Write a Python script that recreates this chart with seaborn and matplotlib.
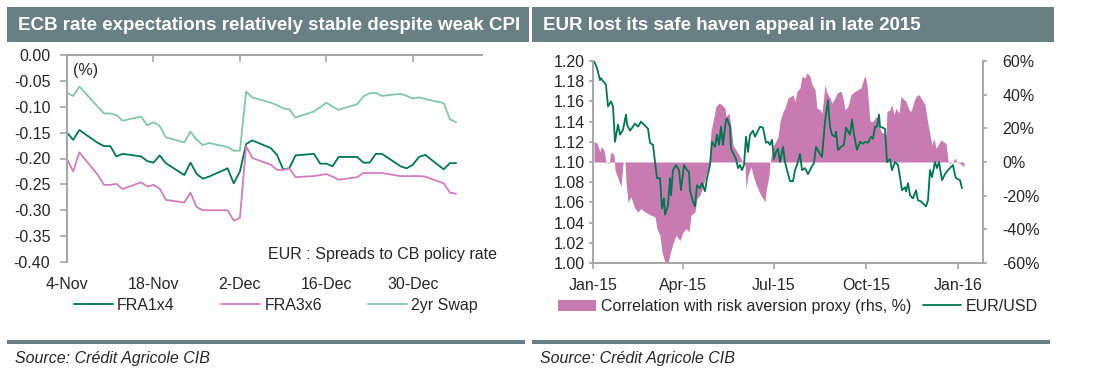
import numpy as np
import pandas as pd
import matplotlib
matplotlib.use("Agg")
import matplotlib.pyplot as plt
import seaborn as sns
from matplotlib.patches import Rectangle, Patch
from matplotlib.lines import Line2D
from matplotlib.ticker import FixedLocator, FuncFormatter
import matplotlib.dates as mdates

# ---------------- data: left chart ----------------
left_title = "ECB rate expectations relatively stable despite weak CPI"
right_title = "EUR lost its safe haven appeal in late 2015"

dates_left = ["2015-11-04", "2015-11-05", "2015-11-06", "2015-11-09", "2015-11-10", "2015-11-11",
              "2015-11-12", "2015-11-13", "2015-11-16", "2015-11-17", "2015-11-18", "2015-11-19",
              "2015-11-20", "2015-11-23", "2015-11-24", "2015-11-25", "2015-11-26", "2015-11-27",
              "2015-11-30", "2015-12-01", "2015-12-02", "2015-12-03", "2015-12-04", "2015-12-07",
              "2015-12-08", "2015-12-09", "2015-12-10", "2015-12-11", "2015-12-14", "2015-12-15",
              "2015-12-16", "2015-12-17", "2015-12-18", "2015-12-21", "2015-12-22", "2015-12-23",
              "2015-12-24", "2015-12-25", "2015-12-28", "2015-12-29", "2015-12-30", "2015-12-31",
              "2016-01-01", "2016-01-04", "2016-01-05", "2016-01-06"]

fra1x4 = [-0.150, -0.164, -0.145, -0.170, -0.176, -0.176, -0.196, -0.191, -0.196, -0.205, -0.208,
          -0.194, -0.209, -0.232, -0.208, -0.230, -0.239, -0.235, -0.219, -0.248, -0.225, -0.172,
          -0.165, -0.180, -0.193, -0.221, -0.219, -0.194, -0.191, -0.210, -0.210, -0.215, -0.197,
          -0.197, -0.208, -0.208, -0.191, -0.191, -0.215, -0.219, -0.212, -0.197, -0.193, -0.221,
          -0.209, -0.209]

fra3x6 = [-0.201, -0.225, -0.188, -0.232, -0.251, -0.251, -0.249, -0.259, -0.246, -0.254, -0.251,
          -0.258, -0.280, -0.285, -0.266, -0.294, -0.300, -0.300, -0.300, -0.320, -0.315, -0.176,
          -0.199, -0.212, -0.222, -0.222, -0.219, -0.236, -0.234, -0.232, -0.230, -0.235, -0.241,
          -0.236, -0.228, -0.228, -0.228, -0.228, -0.234, -0.234, -0.234, -0.234, -0.235, -0.248,
          -0.266, -0.268]

swap2y = [-0.073, -0.079, -0.061, -0.100, -0.113, -0.113, -0.116, -0.127, -0.119, -0.136, -0.130,
          -0.137, -0.159, -0.169, -0.148, -0.164, -0.174, -0.170, -0.178, -0.185, -0.185, -0.071,
          -0.082, -0.092, -0.097, -0.103, -0.105, -0.121, -0.109, -0.101, -0.092, -0.100, -0.106,
          -0.095, -0.080, -0.074, -0.073, -0.079, -0.075, -0.079, -0.084, -0.082, -0.085, -0.093,
          -0.124, -0.130]

left_series = ["FRA1x4", "FRA3x6", "2yr Swap"]
left_xticks = ["2015-11-04", "2015-11-18", "2015-12-02", "2015-12-16", "2015-12-30"]
left_yticks = [-0.40, -0.35, -0.30, -0.25, -0.20, -0.15, -0.10, -0.05, 0.00]

# ---------------- data: right chart ----------------
base_date = "2015-01-01"
eur_days = [1, 4, 7, 8, 10, 12, 13, 15, 18, 20, 22, 25, 27, 30, 33, 34, 37, 42, 45, 48,
            52, 55, 57, 60, 62, 64, 67, 69, 71, 72, 75, 77, 78, 80, 83, 86, 88, 91, 94, 96,
            97, 100, 102, 104, 107, 109, 112, 114, 117, 119, 122, 124, 126, 128, 130, 133, 134, 137, 138, 140,
            143, 145, 147, 149, 151, 153, 155, 157, 160, 162, 164, 167, 170, 173, 175, 177, 179, 181, 183, 185,
            187, 190, 192, 194, 197, 200, 202, 204, 207, 209, 212, 215, 218, 221, 223, 227, 229, 232, 235, 237,
            239, 242, 243, 245, 248, 251, 253, 257, 259, 261, 264, 267, 270, 272, 275, 278, 280, 282, 284, 286,
            287, 292, 294, 297, 299, 302, 305, 307, 309, 312, 313, 315, 317, 320, 323, 325, 328, 332, 333, 335,
            337, 339, 342, 344, 346, 349, 352, 355, 357, 360, 362, 363, 367, 369]
eur_usd = [1.200, 1.193, 1.181, 1.183, 1.180, 1.178, 1.176, 1.155, 1.160, 1.155,
           1.120, 1.137, 1.127, 1.132, 1.147, 1.137, 1.131, 1.138, 1.135, 1.140,
           1.136, 1.133, 1.119, 1.117, 1.100, 1.084, 1.084, 1.054, 1.064, 1.048,
           1.057, 1.084, 1.067, 1.092, 1.097, 1.092, 1.072, 1.097, 1.092, 1.090,
           1.072, 1.061, 1.056, 1.077, 1.074, 1.079, 1.071, 1.084, 1.097, 1.120,
           1.115, 1.127, 1.117, 1.135, 1.117, 1.142, 1.143, 1.135, 1.113, 1.109,
           1.103, 1.094, 1.097, 1.092, 1.097, 1.125, 1.110, 1.127, 1.131, 1.125,
           1.129, 1.135, 1.134, 1.119, 1.120, 1.117, 1.122, 1.103, 1.110, 1.113,
           1.100, 1.115, 1.100, 1.092, 1.081, 1.081, 1.092, 1.097, 1.108, 1.092,
           1.094, 1.088, 1.094, 1.099, 1.115, 1.108, 1.105, 1.140, 1.161, 1.135,
           1.127, 1.125, 1.130, 1.112, 1.115, 1.117, 1.134, 1.127, 1.142, 1.127,
           1.112, 1.120, 1.118, 1.120, 1.119, 1.125, 1.123, 1.135, 1.135, 1.147,
           1.135, 1.133, 1.100, 1.103, 1.092, 1.100, 1.097, 1.085, 1.072, 1.075,
           1.071, 1.079, 1.067, 1.064, 1.072, 1.062, 1.061, 1.057, 1.056, 1.062,
           1.092, 1.085, 1.100, 1.094, 1.100, 1.082, 1.088, 1.092, 1.094, 1.097,
           1.087, 1.084, 1.082, 1.074]

corr_days = [1, 4, 7, 8, 11, 13, 16, 18, 21, 22, 25, 28, 30, 32, 33, 35, 38, 42, 45, 48,
             52, 55, 58, 62, 64, 67, 69, 72, 75, 78, 80, 83, 87, 90, 93, 96, 98, 102, 104, 107,
             110, 113, 116, 118, 121, 123, 126, 129, 132, 133, 136, 138, 140, 143, 147, 149, 152, 153, 155, 158,
             161, 164, 167, 169, 172, 173, 176, 177, 180, 183, 185, 187, 188, 190, 192, 195, 198, 200, 202, 204,
             207, 209, 212, 214, 217, 219, 222, 224, 227, 229, 232, 234, 237, 239, 242, 244, 248, 250, 252, 255,
             258, 262, 265, 268, 271, 272, 274, 277, 280, 282, 284, 285, 288, 293, 294, 297, 299, 301, 303, 306,
             308, 311, 313, 316, 318, 321, 323, 326, 328, 332, 334, 337, 339, 341, 343, 346, 348, 351, 353, 355,
             357, 360, 362, 364, 367, 369, 371]
corr_risk = [12.1, 11.1, 6.1, 9.1, 7.2, 0, -0.8, 6.1, 4.2, -4.8,
             -9.7, -14.7, -0.8, 0.6, -11.8, -23.7, -20.7, -27.7, -29.7, -27.7,
             -29.7, -30.6, -31.6, -32.6, -39.6, -43.6, -53.5, -59.6, -60, -52.5,
             -48.5, -43.6, -46.6, -41.6, -39.6, -41.6, -31.6, -29.7, -21.7, -19.7,
             -14.7, -7.8, -1.8, 18.1, 27.0, 33.0, 35.0, 34.0, 32.0, 27.0,
             29.1, 21.1, 10.1, 7.2, 3.2, 0.6, -1.8, -15.7, -7.8, -2.8,
             -9.7, -14.7, -18.7, -20.7, -23.7, -17.7, -7.8, 0, 9.1, 12.5,
             15.1, 24.1, 26.1, 30.0, 32.0, 38.0, 39.0, 40.0, 36.0, 42.0,
             44.0, 50.9, 50.0, 53.0, 50.9, 46.0, 43.0, 32.0, 31.0, 29.1,
             46.0, 41.0, 38.0, 35.0, 38.0, 41.0, 42.0, 38.0, 31.0, 33.0,
             40.0, 42.0, 43.0, 44.0, 50.0, 50.9, 46.0, 24.1, 24.0, 26.1,
             27.0, 24.1, 18.1, 16.1, 30.0, 31.0, 34.0, 28.1, 32.0, 29.1,
             39.0, 37.0, 36.0, 31.0, 30.0, 36.0, 39.0, 40.0, 38.0, 34.0,
             26.1, 16.1, 10.1, 14.1, 8.2, 11.1, 13.1, 11.8, 11.1, 0.6,
             -0.8, 0.2, 2.2, 0, -0.8, -1.8, -2.8]

right_xticks = ["2015-01-01", "2015-04-01", "2015-07-01", "2015-10-01", "2016-01-01"]
right_yticks = [1.00, 1.02, 1.04, 1.06, 1.08, 1.10, 1.12, 1.14, 1.16, 1.18, 1.20]
right_y2ticks = [-60, -40, -20, 0, 20, 40, 60]
right_labels = ["Correlation with risk aversion proxy (rhs, %)", "EUR/USD"]

# ---------------- style ----------------
banner_c = "#687F84"
spine_c = "#A6A6A6"
c_fra1 = "#00784F"
c_fra3 = "#D27DBE"
c_swap = "#84C7A8"
c_fill = "#C77BB0"
c_eur = "#00784F"
FS = 11.5

sns.set_style("white")
plt.rcParams["font.family"] = ["Liberation Sans", "DejaVu Sans"]
plt.rcParams["axes.unicode_minus"] = False

W, H = 1099, 379
fig = plt.figure(figsize=(W / 100, H / 100), dpi=100)


def fx(px):
    return px / W


def fy(py):
    return 1 - py / H


# banners, separators, sources
for x0, x1, title in [(7, 529, left_title), (532, 1054, right_title)]:
    fig.patches.append(Rectangle((fx(x0), fy(42)), (x1 - x0) / W, 35 / H,
                                 transform=fig.transFigure, facecolor=banner_c,
                                 edgecolor="none", zorder=0))
    fig.text(fx(x0 + 11), fy(25), title, color="white", fontsize=13.5,
             fontweight="bold", va="center", ha="left")
for x0, x1 in [(7, 525), (532, 1050)]:
    fig.patches.append(Rectangle((fx(x0), fy(343.5)), (x1 - x0) / W, 3.5 / H,
                                 transform=fig.transFigure, facecolor=banner_c,
                                 edgecolor="none", zorder=0))
fig.text(fx(15), fy(359), "Source: Crédit Agricole CIB", fontsize=FS, style="italic",
         va="center", ha="left")
fig.text(fx(540), fy(359), "Source: Crédit Agricole CIB", fontsize=FS, style="italic",
         va="center", ha="left")

# ---------------- left chart ----------------
dl = pd.to_datetime(dates_left)
ax1 = fig.add_axes([fx(67), fy(262), 415 / W, 207 / H])
for vals, col, name in [(fra1x4, c_fra1, left_series[0]), (fra3x6, c_fra3, left_series[1]),
                        (swap2y, c_swap, left_series[2])]:
    sns.lineplot(x=dl, y=vals, ax=ax1, color=col, linewidth=1.3, label=name, legend=False)

x0l = pd.Timestamp(left_xticks[0])
ax1.set_xlim(x0l, x0l + pd.Timedelta(days=67.2))
ax1.set_ylim(-0.40, 0.0)
ax1.yaxis.set_major_locator(FixedLocator(left_yticks))
ax1.yaxis.set_major_formatter(FuncFormatter(lambda v, p: f"{v:.2f}" if abs(v) > 1e-9 else "0.00"))
xt = [mdates.date2num(pd.Timestamp(d)) for d in left_xticks]
ax1.xaxis.set_major_locator(FixedLocator(xt))
ax1.xaxis.set_major_formatter(FuncFormatter(
    lambda v, p: f"{mdates.num2date(v).day}-{mdates.num2date(v).strftime('%b')}"))
for s in ["bottom", "right"]:
    ax1.spines[s].set_visible(False)
for s in ["left", "top"]:
    ax1.spines[s].set_color(spine_c)
    ax1.spines[s].set_linewidth(1.4)
ax1.tick_params(axis="x", top=True, bottom=False, labeltop=False, labelbottom=True,
                direction="in", length=5, width=1.2, color=spine_c, labelsize=FS, pad=11)
ax1.tick_params(axis="y", left=True, direction="out", length=5, width=1.2, color=spine_c,
                labelsize=FS, pad=7)
ax1.set_xlabel("")
ax1.set_ylabel("")
ax1.set_facecolor("none")

fig.text(fx(73), fy(71), "(%)", fontsize=FS, va="center", ha="left")
fig.text(fx(268), fy(255), "EUR : Spreads to CB policy rate", fontsize=FS, va="center", ha="left")

h_left = [Line2D([], [], color=c, lw=1.3) for c in (c_fra1, c_fra3, c_swap)]
fig.legend(h_left, left_series, loc="center", bbox_to_anchor=(fx(276), fy(305.5)),
           ncol=3, frameon=False, fontsize=FS, handlelength=2.45, handletextpad=0.25,
           columnspacing=2.9, borderaxespad=0, borderpad=0)

# ---------------- right chart ----------------
b = pd.Timestamp(base_date)
de = b + pd.to_timedelta(eur_days, unit="D")
dc = b + pd.to_timedelta(corr_days, unit="D")

ax2 = fig.add_axes([fx(593), fy(263), 390 / W, 202 / H])
ax3 = ax2.twinx()
ax3.fill_between(dc, 0, corr_risk, color=c_fill, linewidth=0, interpolate=True)
sns.lineplot(x=de, y=eur_usd, ax=ax2, color=c_eur, linewidth=1.3, legend=False)
ax2.set_zorder(ax3.get_zorder() + 1)
ax2.patch.set_visible(False)

for a in (ax2, ax3):
    a.set_xlim(b, b + pd.Timedelta(days=390))
ax2.set_ylim(1.00, 1.20)
ax3.set_ylim(-60, 60)
ax2.yaxis.set_major_locator(FixedLocator(right_yticks))
ax2.yaxis.set_major_formatter(FuncFormatter(lambda v, p: f"{v:.2f}"))
ax3.yaxis.set_major_locator(FixedLocator(right_y2ticks))
ax3.yaxis.set_major_formatter(FuncFormatter(lambda v, p: f"{v:.0f}%"))
xt2 = [mdates.date2num(pd.Timestamp(d)) for d in right_xticks]
ax2.xaxis.set_major_locator(FixedLocator(xt2))
ax2.xaxis.set_major_formatter(mdates.DateFormatter("%b-%y"))

for s in ["top", "right"]:
    ax2.spines[s].set_visible(False)
for s in ["left", "bottom"]:
    ax2.spines[s].set_color(spine_c)
    ax2.spines[s].set_linewidth(1.4)
for s in ["top", "left", "bottom"]:
    ax3.spines[s].set_visible(False)
ax3.spines["right"].set_color(spine_c)
ax3.spines["right"].set_linewidth(1.4)
ax3.tick_params(axis="x", bottom=False, labelbottom=False)
ax2.tick_params(axis="x", bottom=True, direction="out", length=4, width=1.2, color=spine_c,
                labelsize=FS, pad=7)
ax2.tick_params(axis="y", left=True, direction="out", length=3, width=1.2, color=spine_c,
                labelsize=FS, pad=3)
ax3.tick_params(axis="y", right=True, direction="out", length=3, width=1.2, color=spine_c,
                labelsize=FS, pad=11)
for a in (ax2, ax3):
    a.set_xlabel("")
    a.set_ylabel("")

h_right = [Patch(facecolor=c_fill, edgecolor="none"), Line2D([], [], color=c_eur, lw=1.3)]
fig.legend(h_right, right_labels, loc="center", bbox_to_anchor=(fx(798), fy(306.5)),
           ncol=2, frameon=False, fontsize=FS, handlelength=2.4, handletextpad=0.3,
           columnspacing=0.75, borderaxespad=0, borderpad=0)

fig.savefig("out.png", dpi=100)
